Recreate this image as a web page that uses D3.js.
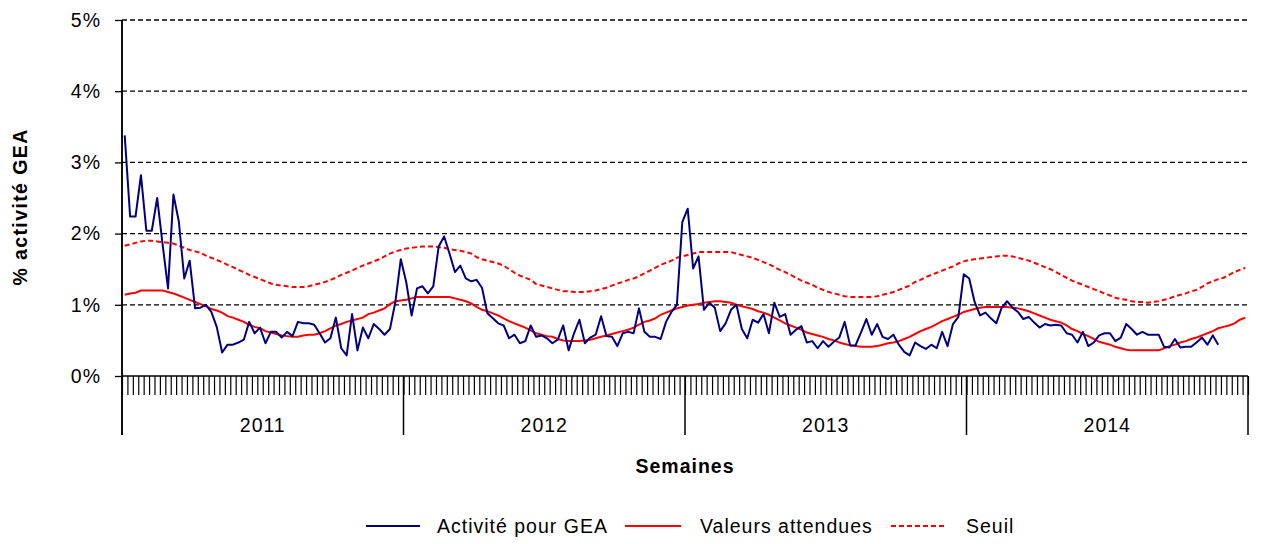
<!DOCTYPE html>
<html>
<head>
<meta charset="utf-8">
<script src="https://cdn.jsdelivr.net/npm/d3@7"></script>
<style>
  html, body { margin: 0; padding: 0; background: #fff; }
  text { font-family: "Liberation Sans", Arial, sans-serif; fill: #000; }
</style>
</head>
<body>
<svg id="chart" width="1267" height="544"></svg>
<script>
// ---------- DATA ----------
const years = ["2011", "2012", "2013", "2014"];
const weeksPerYear = 52;
const weeks = years.flatMap(yr => d3.range(1, weeksPerYear + 1).map(w => yr + "-S" + String(w).padStart(2, "0")));

const yTicks = [0, 1, 2, 3, 4, 5];

// % activité pour GEA (weekly, ends before the last weeks of 2014)
const activite = [
  3.38, 2.24, 2.24, 2.82, 2.04, 2.04, 2.50, 1.85, 1.23, 2.55,
  2.17, 1.37, 1.62, 0.95, 0.96, 1.00, 0.90, 0.69, 0.33, 0.44,
  0.44, 0.47, 0.51, 0.76, 0.60, 0.68, 0.46, 0.62, 0.62, 0.54,
  0.62, 0.56, 0.76, 0.74, 0.74, 0.72, 0.60, 0.47, 0.53, 0.82,
  0.39, 0.29, 0.87, 0.36, 0.68, 0.53, 0.73, 0.66, 0.58, 0.66,
  1.04, 1.64, 1.32, 0.85, 1.23, 1.26, 1.16, 1.26, 1.82, 1.96,
  1.72, 1.46, 1.55, 1.37, 1.33, 1.35, 1.24, 0.88, 0.81, 0.74,
  0.71, 0.53, 0.58, 0.46, 0.49, 0.71, 0.55, 0.57, 0.53, 0.46,
  0.51, 0.71, 0.36, 0.60, 0.79, 0.46, 0.54, 0.58, 0.84, 0.56,
  0.55, 0.42, 0.60, 0.62, 0.60, 0.95, 0.62, 0.55, 0.55, 0.52,
  0.76, 0.90, 1.00, 2.16, 2.35, 1.51, 1.68, 0.93, 1.03, 0.96,
  0.63, 0.74, 0.93, 1.00, 0.66, 0.53, 0.79, 0.75, 0.87, 0.60,
  1.03, 0.83, 0.87, 0.58, 0.65, 0.70, 0.47, 0.49, 0.39, 0.49,
  0.41, 0.48, 0.54, 0.76, 0.43, 0.43, 0.61, 0.80, 0.58, 0.73,
  0.55, 0.52, 0.58, 0.44, 0.34, 0.29, 0.47, 0.42, 0.38, 0.44,
  0.39, 0.62, 0.42, 0.73, 0.83, 1.43, 1.37, 1.04, 0.85, 0.89,
  0.81, 0.74, 0.96, 1.05, 0.96, 0.90, 0.80, 0.83, 0.75, 0.68,
  0.73, 0.71, 0.72, 0.71, 0.60, 0.58, 0.47, 0.62, 0.42, 0.47,
  0.57, 0.60, 0.60, 0.49, 0.54, 0.73, 0.66, 0.58, 0.62, 0.58,
  0.58, 0.58, 0.41, 0.40, 0.52, 0.40, 0.41, 0.41, 0.47, 0.54,
  0.44, 0.57, 0.44
];

// Valeurs attendues
const attendues = [
  1.14, 1.16, 1.17, 1.20, 1.20, 1.20, 1.20, 1.20, 1.18, 1.16,
  1.13, 1.10, 1.07, 1.04, 1.01, 0.98, 0.94, 0.92, 0.89, 0.84,
  0.82, 0.79, 0.76, 0.72, 0.69, 0.67, 0.63, 0.61, 0.59, 0.57,
  0.56, 0.55, 0.55, 0.57, 0.58, 0.58, 0.60, 0.63, 0.67, 0.71,
  0.73, 0.76, 0.78, 0.80, 0.82, 0.87, 0.89, 0.92, 0.95, 1.01,
  1.05, 1.06, 1.07, 1.09, 1.11, 1.11, 1.11, 1.11, 1.11, 1.11,
  1.11, 1.09, 1.07, 1.05, 1.02, 0.97, 0.93, 0.91, 0.88, 0.85,
  0.81, 0.77, 0.74, 0.71, 0.68, 0.64, 0.60, 0.58, 0.56, 0.55,
  0.52, 0.50, 0.49, 0.49, 0.49, 0.50, 0.51, 0.53, 0.55, 0.57,
  0.59, 0.61, 0.63, 0.65, 0.68, 0.72, 0.76, 0.78, 0.81, 0.86,
  0.89, 0.92, 0.95, 0.97, 0.99, 1.00, 1.01, 1.03, 1.04, 1.05,
  1.05, 1.04, 1.03, 1.00, 0.98, 0.96, 0.94, 0.91, 0.89, 0.86,
  0.82, 0.78, 0.74, 0.71, 0.68, 0.65, 0.61, 0.59, 0.57, 0.55,
  0.52, 0.50, 0.47, 0.45, 0.43, 0.42, 0.41, 0.41, 0.41, 0.42,
  0.44, 0.46, 0.47, 0.49, 0.52, 0.55, 0.59, 0.63, 0.66, 0.69,
  0.73, 0.77, 0.80, 0.83, 0.86, 0.90, 0.92, 0.94, 0.96, 0.97,
  0.97, 0.97, 0.97, 0.97, 0.96, 0.95, 0.93, 0.91, 0.88, 0.85,
  0.82, 0.79, 0.77, 0.75, 0.71, 0.66, 0.63, 0.59, 0.56, 0.52,
  0.48, 0.46, 0.44, 0.41, 0.39, 0.37, 0.36, 0.36, 0.36, 0.36,
  0.36, 0.36, 0.39, 0.42, 0.44, 0.47, 0.49, 0.52, 0.54, 0.57,
  0.60, 0.63, 0.67, 0.69, 0.71, 0.74, 0.79, 0.82
];

// Seuil
const seuil = [
  1.83, 1.85, 1.87, 1.89, 1.90, 1.90, 1.89, 1.88, 1.87, 1.86,
  1.83, 1.80, 1.77, 1.75, 1.73, 1.69, 1.66, 1.63, 1.60, 1.56,
  1.53, 1.49, 1.46, 1.42, 1.39, 1.36, 1.33, 1.30, 1.28, 1.27,
  1.26, 1.25, 1.25, 1.25, 1.26, 1.28, 1.30, 1.32, 1.35, 1.38,
  1.42, 1.45, 1.48, 1.52, 1.55, 1.58, 1.61, 1.64, 1.68, 1.72,
  1.75, 1.77, 1.79, 1.80, 1.81, 1.82, 1.82, 1.82, 1.81, 1.80,
  1.78, 1.77, 1.76, 1.74, 1.72, 1.67, 1.64, 1.62, 1.60, 1.58,
  1.55, 1.50, 1.45, 1.41, 1.38, 1.35, 1.29, 1.27, 1.25, 1.23,
  1.21, 1.19, 1.19, 1.18, 1.18, 1.18, 1.19, 1.20, 1.22, 1.24,
  1.27, 1.30, 1.32, 1.35, 1.37, 1.40, 1.44, 1.48, 1.52, 1.56,
  1.59, 1.62, 1.66, 1.68, 1.70, 1.72, 1.74, 1.74, 1.74, 1.74,
  1.74, 1.74, 1.74, 1.72, 1.70, 1.68, 1.66, 1.63, 1.60, 1.57,
  1.53, 1.49, 1.46, 1.42, 1.38, 1.34, 1.31, 1.28, 1.24, 1.21,
  1.18, 1.16, 1.14, 1.12, 1.11, 1.11, 1.11, 1.11, 1.11, 1.12,
  1.14, 1.16, 1.18, 1.21, 1.24, 1.27, 1.32, 1.35, 1.39, 1.42,
  1.45, 1.48, 1.51, 1.54, 1.58, 1.61, 1.63, 1.64, 1.65, 1.66,
  1.67, 1.68, 1.69, 1.69, 1.68, 1.66, 1.64, 1.62, 1.59, 1.56,
  1.53, 1.50, 1.46, 1.42, 1.38, 1.34, 1.31, 1.28, 1.25, 1.22,
  1.19, 1.16, 1.13, 1.10, 1.08, 1.07, 1.05, 1.04, 1.04, 1.03,
  1.04, 1.05, 1.07, 1.09, 1.12, 1.14, 1.16, 1.19, 1.21, 1.25,
  1.30, 1.33, 1.36, 1.38, 1.42, 1.46, 1.49, 1.52
];

const seriesNames = ["Activité pour GEA", "Valeurs attendues", "Seuil"];

// ---------- CHART ----------
const svg = d3.select("#chart");
const plotL = 122, plotR = 1248, plotT = 20, plotB = 376;
const FS = 19.5;
const LS = "1px";

const x = d3.scaleBand().domain(weeks).range([plotL, plotR]).padding(0);
const xIdx = d3.scaleLinear().domain([0, weeks.length]).range([plotL, plotR]);
const y = d3.scaleLinear().domain([0, 5]).range([plotB, plotT]);
const cx = i => x(weeks[i]) + x.bandwidth() / 2;

// gridlines
svg.append("g").selectAll("line").data(yTicks.filter(t => t > 0)).join("line")
  .attr("x1", plotL).attr("x2", plotR)
  .attr("y1", d => y(d)).attr("y2", d => y(d))
  .attr("stroke", "#000").attr("stroke-width", 1.3).attr("stroke-dasharray", "5,3");

// y axis
const yAxis = svg.append("g").attr("transform", `translate(${plotL},0)`)
  .call(d3.axisLeft(y).tickValues(yTicks).tickSize(7).tickPadding(14).tickFormat(d => d + "%"));
yAxis.select(".domain").attr("stroke", "#000").attr("stroke-width", 1.5).attr("d", `M0,${plotT}V${plotB}`);
yAxis.selectAll(".tick line").attr("stroke", "#000").attr("stroke-width", 1.3);
yAxis.selectAll(".tick text").attr("font-size", FS).attr("letter-spacing", LS)
  .attr("font-family", "Liberation Sans, Arial, sans-serif").attr("fill", "#000");

// x axis: minor ticks at each week boundary
const xAxis = svg.append("g").attr("transform", `translate(0,${plotB})`)
  .call(d3.axisBottom(xIdx).tickValues(d3.range(0, weeks.length + 1)).tickSize(19).tickFormat(""));
xAxis.select(".domain").attr("stroke", "#000").attr("stroke-width", 1.5).attr("d", `M${plotL},0H${plotR}`);
xAxis.selectAll(".tick line").attr("stroke", "#000").attr("stroke-width", 1.2);

// year separators
const yearBounds = d3.range(0, years.length + 1).map(k => k * weeksPerYear);
svg.append("g").selectAll("line").data(yearBounds).join("line")
  .attr("x1", d => xIdx(d)).attr("x2", d => xIdx(d))
  .attr("y1", plotB).attr("y2", 435)
  .attr("stroke", "#000").attr("stroke-width", 1.5);
svg.append("line").attr("x1", plotL).attr("x2", plotL).attr("y1", plotT).attr("y2", 435)
  .attr("stroke", "#000").attr("stroke-width", 1.5);

// year labels
svg.append("g").selectAll("text").data(years).join("text")
  .attr("x", (d, k) => (xIdx(k * weeksPerYear) + xIdx((k + 1) * weeksPerYear)) / 2)
  .attr("y", 432)
  .attr("text-anchor", "middle").attr("font-size", FS).attr("letter-spacing", LS)
  .text(d => d);

// axis titles
svg.append("text").attr("x", 685).attr("y", 473).attr("text-anchor", "middle")
  .attr("font-size", FS).attr("letter-spacing", LS).attr("font-weight", "bold").text("Semaines");
svg.append("text").attr("transform", "translate(27,207) rotate(-90)").attr("text-anchor", "middle")
  .attr("font-size", FS).attr("letter-spacing", "1.4px").attr("font-weight", "bold").text("% activité GEA");

// lines
const line = d3.line().x((d, i) => cx(i)).y(d => y(d));
svg.append("path").datum(seuil).attr("d", line)
  .attr("fill", "none").attr("stroke", "#FF0000").attr("stroke-width", 2).attr("stroke-dasharray", "5,3");
svg.append("path").datum(attendues).attr("d", line)
  .attr("fill", "none").attr("stroke", "#FF0000").attr("stroke-width", 2);
svg.append("path").datum(activite).attr("d", line)
  .attr("fill", "none").attr("stroke", "#000080").attr("stroke-width", 2).attr("stroke-linejoin", "round");

// legend
const legend = [
  { name: seriesNames[0], color: "#000080", dash: null, x1: 366, x2: 420, tx: 437 },
  { name: seriesNames[1], color: "#FF0000", dash: null, x1: 625, x2: 681, tx: 700 },
  { name: seriesNames[2], color: "#FF0000", dash: "5,3", x1: 891, x2: 946, tx: 966 }
];
const lg = svg.append("g");
legend.forEach(l => {
  lg.append("line").attr("x1", l.x1).attr("x2", l.x2).attr("y1", 526).attr("y2", 526)
    .attr("stroke", l.color).attr("stroke-width", 2).attr("stroke-dasharray", l.dash);
  lg.append("text").attr("x", l.tx).attr("y", 533).attr("font-size", FS).attr("letter-spacing", LS).text(l.name);
});
</script>
</body>
</html>
